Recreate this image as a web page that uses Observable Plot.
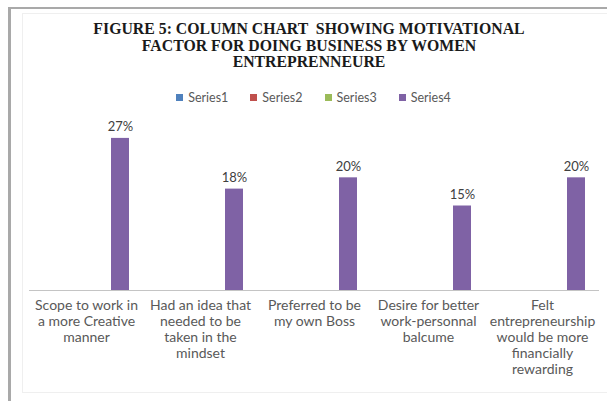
<!DOCTYPE html>
<html>
<head>
<meta charset="utf-8">
<script src="https://cdn.jsdelivr.net/npm/d3@7"></script>
<script src="https://cdn.jsdelivr.net/npm/@observablehq/plot@0.6"></script>
<style>
  html, body { margin: 0; padding: 0; background: #fff; }
  #wrap { position: relative; width: 607px; height: 401px; overflow: hidden; background: #fff; }
  #frame { position: absolute; left: 8px; top: 7px; right: -5px; bottom: -5px;
           border-left: 3px solid #a9a9a9; border-top: 2px solid #a9a9a9; pointer-events: none; }
  #inner { position: absolute; left: 22px; top: 13px; right: -5px; bottom: 8px;
           border: 1px solid #efefef; pointer-events: none; }
  #header { position: relative; height: 108px; }
  #title { position: absolute; left: 10px; width: 598px; top: 21px; text-align: center;
           font-family: "Liberation Serif", "Times New Roman", serif; font-weight: bold;
           font-size: 15.8px; line-height: 16.5px; color: #1a1a1a; white-space: pre; }
  #legend { position: absolute; left: 0; width: 607px; top: 90px; display: flex; justify-content: center;
            font-family: Lato, sans-serif; font-size: 12.5px; color: #595959; padding-left: 42px; box-sizing: border-box; }
  .item { display: flex; align-items: center; margin: 0 22px 0 0; }
  .sw { width: 7px; height: 7px; margin-right: 5px; }
  svg { display: block; }
</style>
</head>
<body>
<div id="wrap">
  <div id="header">
    <div id="title"></div>
    <div id="legend"></div>
  </div>
  <div id="chart"></div>
  <div id="inner"></div>
  <div id="frame"></div>
</div>
<script>
const titleLines = [
  "FIGURE 5: COLUMN CHART  SHOWING MOTIVATIONAL",
  "FACTOR FOR DOING BUSINESS BY WOMEN",
  "ENTREPRENNEURE"
];
const categories = [
  "Scope to work in a more Creative manner",
  "Had an idea that needed to be taken in the mindset",
  "Preferred to be my own Boss",
  "Desire for better work-personnal balcume",
  "Felt entrepreneurship would be more financially rewarding"
];
const tickLabels = [
  "Scope to work in\na more Creative\nmanner",
  "Had an idea that\nneeded to be\ntaken in the\nmindset",
  "Preferred to be\nmy own Boss",
  "Desire for better\nwork-personnal\nbalcume",
  "Felt\nentrepreneurship\nwould be more\nfinancially\nrewarding"
];
const series = ["Series1", "Series2", "Series3", "Series4"];
const seriesColors = ["#4F81BD", "#C0504D", "#9BBB59", "#7F62A5"];
const series4Values = [27, 18, 20, 15, 20];

document.getElementById("title").textContent = titleLines.join("\n");

const legend = document.getElementById("legend");
series.forEach((s, i) => {
  const item = document.createElement("div");
  item.className = "item";
  const sw = document.createElement("div");
  sw.className = "sw";
  sw.style.background = seriesColors[i];
  const t = document.createElement("span");
  t.textContent = s;
  item.appendChild(sw);
  item.appendChild(t);
  legend.appendChild(item);
});

const data = categories.map((c, i) => ({category: c, series: "Series4", value: series4Values[i]}));

const chart = Plot.plot({
  width: 607,
  height: 293,
  marginTop: 13,
  marginBottom: 111,
  marginLeft: 27,
  marginRight: 7,
  style: {fontFamily: "Lato, sans-serif", background: "transparent"},
  fx: {domain: categories, padding: 0, label: null},
  x: {domain: series, paddingInner: 0.197, paddingOuter: 0.52, axis: null},
  y: {domain: [0, 30], axis: null},
  color: {domain: series, range: seriesColors},
  marks: [
    Plot.barY(data, {fx: "category", x: "series", y: "value", fill: "series"}),
    Plot.ruleY([0], {stroke: "#c4c4c4", strokeWidth: 1}),
    Plot.text(data, {fx: "category", x: "series", y: "value", text: d => d.value + "%",
      lineAnchor: "bottom", dy: -7, fill: "#404040", fontSize: 13}),
    Plot.axisFx({anchor: "bottom", tickSize: 0, tickPadding: 8, fontSize: 14, lineHeight: 1.14,
      fill: "#595959", label: null, tickFormat: c => tickLabels[categories.indexOf(c)]})
  ]
});
document.getElementById("chart").appendChild(chart);
</script>
</body>
</html>
